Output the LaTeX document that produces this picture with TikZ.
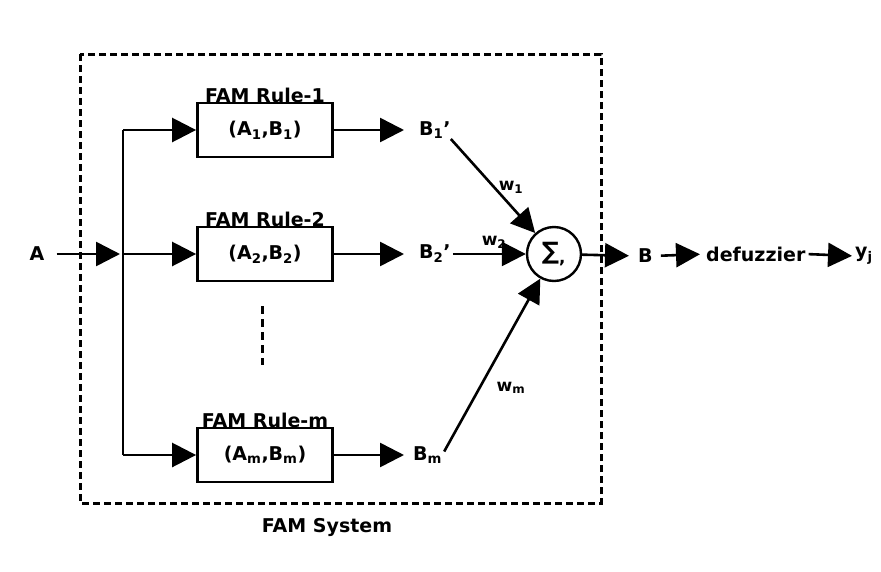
\documentclass[tikz,border=0pt]{standalone}
\usepackage{fontspec}
\setmainfont{DejaVu Sans}
\usetikzlibrary{arrows.meta}
\begin{document}
\begin{tikzpicture}[x=1pt,y=-1pt,
  every node/.style={inner sep=0pt, font=\fontsize{19}{22}\selectfont\bfseries},
  rulebox/.style={draw, line width=2.8pt, minimum width=135pt, minimum height=54pt},
  rulelabel/.style={anchor=base},
  arr/.style={line width=2.6pt, -{Triangle[length=24pt,width=24pt]}},
  wire/.style={line width=2.4pt},
  wlabel/.style={font=\fontsize{17}{19}\selectfont\bfseries},
  sysbox/.style={line width=3pt, dash pattern=on 7pt off 4pt},
  gapline/.style={line width=3pt, dash pattern=on 8pt off 5pt},
]
\fill[white] (0,0) rectangle (881,571);
\useasboundingbox (0,0) rectangle (881,571);

% FAM system frame
\draw[sysbox] (80,54) rectangle (601,503);
\node (sys) at (327,527) {FAM System};

% input
\node (A) at (37,254) {A};
\coordinate (split) at (123,254);
\coordinate (top) at (123,130);
\coordinate (bot) at (123,455);

% rule boxes
\node[rulebox] (r1) at (265,130) {(A\textsubscript{1},B\textsubscript{1})};
\node[rulebox] (r2) at (265,254) {(A\textsubscript{2},B\textsubscript{2})};
\node[rulebox] (rm) at (265,455) {(A\textsubscript{m},B\textsubscript{m})};
\node[rulelabel] (l1) at (265,102.5) {FAM Rule-1};
\node[rulelabel] (l2) at (265,226.5) {FAM Rule-2};
\node[rulelabel] (lm) at (265,427.5) {FAM Rule-m};
\coordinate (g1) at (262,306);
\coordinate (g2) at (262,365);
\draw[gapline] (g1) -- (g2);

% outputs of rules
\node[anchor=west] (b1) at (419,130) {B\textsubscript{1}’};
\node[anchor=west] (b2) at (419,254) {B\textsubscript{2}’};
\node[anchor=west] (bm) at (413,455) {B\textsubscript{m}};

% sum
\node[circle, draw, line width=2.4pt, minimum size=54pt, font=\fontsize{24}{26}\selectfont\bfseries] (sum) at (554,254) {∑\textsubscript{,}};

% connectors
\draw[arr, shorten <=12pt, shorten >=3pt] (A.east) -- (split);
\draw[wire] (top) -- (bot);
\draw[arr] (top) -- (r1.west);
\draw[arr] (split) -- (r2.west);
\draw[arr] (bot) -- (rm.west);
\draw[arr, shorten >=15pt] (r1.east) -- (b1.west);
\draw[arr, shorten >=15pt] (r2.east) -- (b2.west);
\draw[arr, shorten >=9pt] (rm.east) -- (bm.west);
\draw[arr] (b1.south east) -- (sum);
\draw[arr, shorten <=2pt] (b2.east) -- (sum);
\draw[arr, shorten <=4pt] (bm.east) -- (sum);

\node[wlabel] (w1) at (511,187) {w\textsubscript{1}};
\node[wlabel] (w2) at (494,242) {w\textsubscript{2}};
\node[wlabel] (wm) at (511,388) {w\textsubscript{m}};

% output chain
\node[anchor=west] (B) at (638,256) {B};
\node[anchor=west] (defz) at (706,254) {defuzzier};
\node[anchor=west] (y) at (855,256) {y\textsubscript{j}};
\draw[arr, shorten >=9pt] (sum) -- (B.west);
\draw[arr, shorten <=8pt, shorten >=6pt] (B.east) -- (defz.west);
\draw[arr, shorten <=3pt, shorten >=3pt] (defz.east) -- (y.west);
\end{tikzpicture}
\end{document}
